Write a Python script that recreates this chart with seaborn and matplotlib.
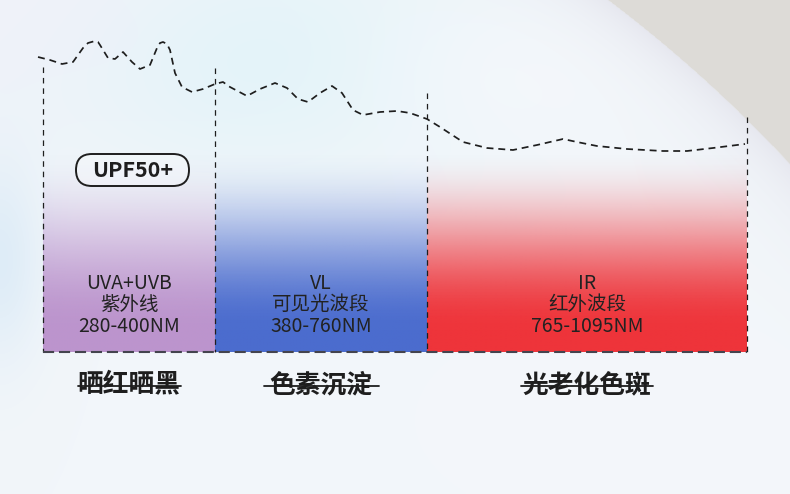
import numpy as np
import pandas as pd
import matplotlib
matplotlib.use("Agg")
import matplotlib.pyplot as plt
from matplotlib.patches import FancyBboxPatch
import seaborn as sns

# ---------------- data ----------------
band_names = ["UVA+UVB", "VL", "IR"]
band_cn = ["紫外线", "可见光波段", "红外波段"]
band_ranges = ["280-400NM", "380-760NM", "765-1095NM"]
band_effects = ["晒红晒黑", "色素沉淀", "光老化色斑"]
band_edges = [43, 215, 427, 747]          # band boundaries on chart x scale
edge_tops = [67, 68, 93, 117]             # top of each boundary line
badge_text = "UPF50+"

curve_x = [38, 50, 62, 73, 83, 88, 95, 98, 100, 108, 115, 123, 132, 140, 150, 157,
           160, 163, 167, 170, 175, 182, 192, 203, 215, 223, 230, 247, 260, 275,
           287, 298, 308, 320, 332, 342, 353, 363, 380, 397, 410, 427, 440, 463,
           487, 513, 537, 563, 577, 597, 627, 663, 687, 713, 745]
curve_y = [57, 60, 64, 62, 48, 43, 41, 42, 45, 58, 59, 52, 62, 69, 65, 48,
           43, 42, 44, 50, 73, 87, 92, 89, 84, 82, 87, 96, 89, 83,
           88, 99, 102, 93, 86, 93, 110, 115, 112, 111, 113, 119, 127, 142,
           148, 150, 145, 139, 142, 146, 149, 151, 151, 148, 144]

# ---------------- styles ----------------
W, H = 790, 494
BASE_Y = 352
band_colors = [(188, 148, 205), (75, 108, 206), (238, 52, 58)]
text_color = "#222222"

sns.set_style("white")
plt.rcParams["font.family"] = ["Noto Sans CJK SC", "DejaVu Sans"]
plt.rcParams["lines.scale_dashes"] = False

fig = plt.figure(figsize=(W / 100, H / 100), dpi=100)
ax = fig.add_axes([0, 0, 1, 1])
ax.set_axis_off()

# ---------------- background ----------------
Y, X = np.mgrid[0:H, 0:W].astype(float)
img = np.ones((H, W, 3)) * np.array([242, 246, 250], float)


def blend(img, color, w):
    w = np.clip(w, 0, 1)[..., None]
    return img * (1 - w) + np.array(color, float) * w


def blob(cx, cy, sx, sy):
    return np.exp(-(((X - cx) / sx) ** 2 + ((Y - cy) / sy) ** 2) / 2)


img = blend(img, (225, 243, 249), 0.9 * blob(280, 60, 170, 80))
img = blend(img, (240, 240, 249), 0.6 * blob(0, 0, 120, 90))
img = blend(img, (214, 232, 246), 0.7 * blob(0, 260, 30, 70))
img = blend(img, (248, 249, 252), 0.6 * blob(520, 70, 120, 70))
img = blend(img, (246, 248, 251), 0.5 * blob(650, 420, 200, 100))
d = np.sqrt((X + 247) ** 2 + (Y - 1131.5) ** 2) - 1417.6
img = blend(img, (226, 226, 235), 0.7 * np.exp(np.minimum(d, 0) / 30) * (d < 0))
img = blend(img, (221, 219, 215), d + 0.5)
ax.imshow(img.astype(np.uint8), extent=(0, W, H, 0), aspect="auto", zorder=0)

# ---------------- gradient bands ----------------
grad_top = 140
ys = np.linspace(grad_top, BASE_Y, 220)
t = np.clip((ys - 148) / 182, 0, 1)
alpha = 3 * t ** 2 - 2 * t ** 3
for i, col in enumerate(band_colors):
    g = np.zeros((len(ys), 1, 4))
    g[..., :3] = np.array(col) / 255
    g[:, 0, 3] = alpha
    ax.imshow(g, extent=(band_edges[i], band_edges[i + 1], BASE_Y, grad_top),
              aspect="auto", interpolation="bilinear", zorder=1)

# ---------------- curve ----------------
curve = pd.DataFrame({"x": curve_x, "y": curve_y})
sns.lineplot(data=curve, x="x", y="y", ax=ax, color="#1e1e1e", lw=1.25,
             linestyle=(0, (5, 3.5)), sort=False, zorder=3)

# boundary lines
ax.vlines(band_edges, edge_tops, BASE_Y, colors="#1e1e1e", lw=0.9,
          linestyles=[(0, (4, 3.5))], zorder=3)
ax.hlines(BASE_Y, band_edges[0], band_edges[-1], colors="#44444e", lw=1.5,
          linestyles=[(0, (8, 3.5))], zorder=3)

# ---------------- texts ----------------
centers = [(band_edges[i] + band_edges[i + 1]) / 2 for i in range(3)]
effect_texts = []
for i, cx in enumerate(centers):
    ax.text(cx, 283, band_names[i], ha="center", va="center", fontsize=14,
            color=text_color, zorder=4)
    ax.text(cx, 304.5, band_cn[i], ha="center", va="center", fontsize=14,
            color=text_color, zorder=4)
    ax.text(cx, 326, band_ranges[i], ha="center", va="center", fontsize=14,
            color=text_color, zorder=4)
    effect_texts.append(ax.text(cx, 385, band_effects[i], ha="center", va="center",
                                fontsize=18.5, fontweight="bold", color="#1e1e1e",
                                zorder=4))

# UPF badge
badge = FancyBboxPatch((76, 154), 113, 32, boxstyle="round,pad=0,rounding_size=16",
                       fc=(1, 1, 1, 0.25), ec="#1e1e1e", lw=1.4, zorder=4)
ax.add_patch(badge)
ax.text(132.5, 170.5, badge_text, ha="center", va="center", fontsize=15.5,
        fontweight="bold", color="#1e1e1e", zorder=5)

ax.set_xlim(0, W)
ax.set_ylim(H, 0)
ax.set_xlabel("")
ax.set_ylabel("")

# strike-through lines on the effect labels
fig.canvas.draw()
inv = ax.transData.inverted()
pads = [0, 6, 2]
for txt, p in zip(effect_texts, pads):
    bb = txt.get_window_extent()
    (x0, _), (x1, _) = inv.transform([(bb.x0, bb.y0), (bb.x1, bb.y0)])
    ax.plot([x0 - p, x1 + p], [386, 386], color="#1e1e1e", lw=1.3, zorder=5)

fig.savefig("out.png", dpi=100)
